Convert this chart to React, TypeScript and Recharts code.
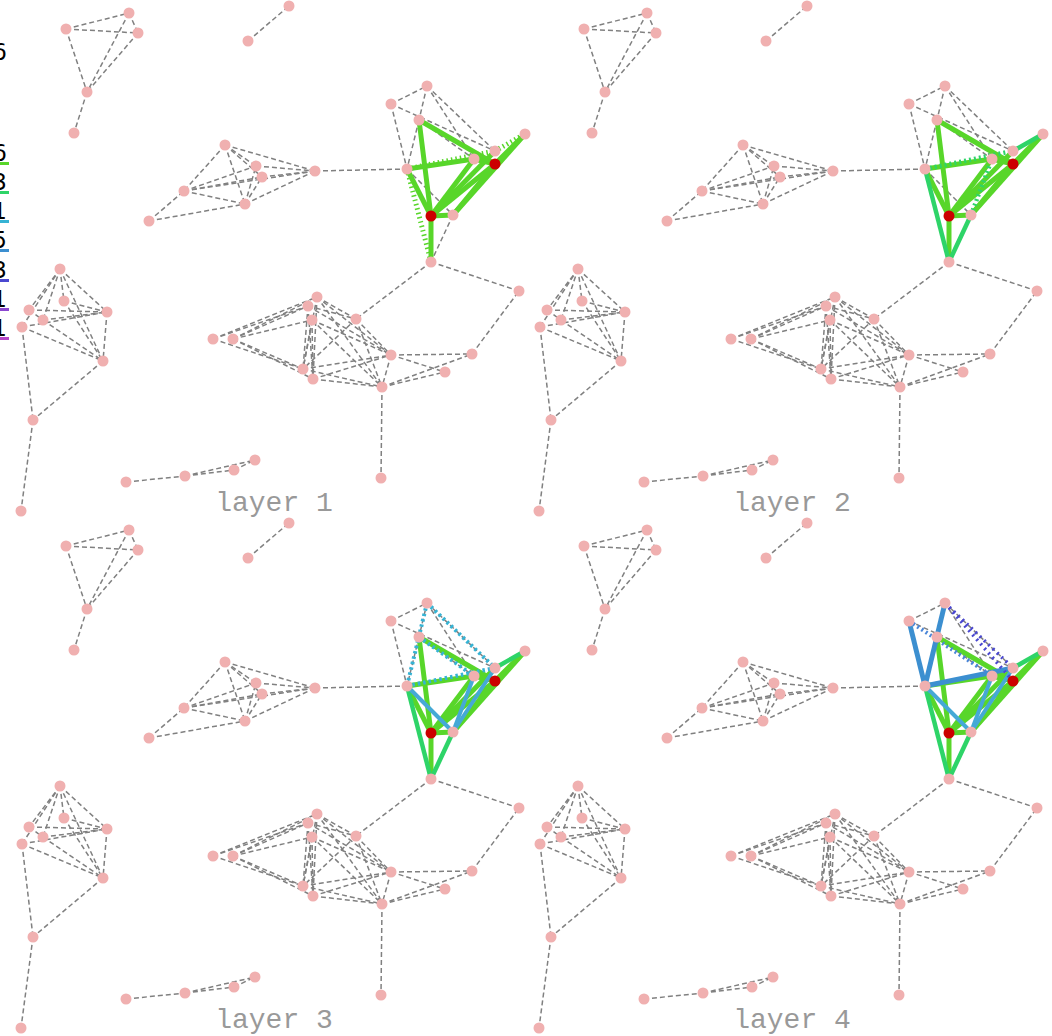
import React from "react"
import { ScatterChart, Scatter, XAxis, YAxis } from "recharts"

const W = 1052
const H = 1036

// node layout of one panel (same graph in every layer)
const nodes: [number, number][] = [
  [66, 29], [129, 13], [138, 33], [87, 92], [74, 133],
  [248, 41], [289, 6],
  [225, 145], [256, 166], [262, 177], [315, 171], [184, 191], [245, 204], [149, 221],
  [427, 86], [391, 104], [419, 120], [525, 134], [495, 151], [474, 159], [495, 164], [407, 169], [431, 216], [453, 215], [431, 262],
  [60, 269], [64, 301], [29, 310], [43, 320], [22, 327], [107, 312], [103, 361], [33, 420], [21, 511],
  [213, 339], [233, 339], [317, 297], [308, 306], [312, 320], [356, 319], [303, 369], [313, 379], [391, 355], [382, 387], [445, 372], [472, 354], [519, 291], [381, 478],
  [126, 482], [185, 476], [234, 470], [255, 460],
]

const redNodes = [20, 22]

const grayEdges: [number, number][] = [
  [0, 1], [0, 2], [0, 3], [1, 2], [1, 3], [2, 3], [3, 4],
  [5, 6],
  [7, 11], [7, 12], [7, 8], [7, 9], [7, 10], [11, 8], [11, 9], [11, 10], [11, 12], [13, 11], [13, 12], [12, 8], [12, 9], [12, 10], [8, 10], [9, 10], [10, 21],
  [15, 14], [15, 21], [15, 18], [14, 16], [14, 18], [14, 19], [16, 21], [16, 19], [21, 23], [23, 24], [24, 39], [24, 46], [21, 22], [19, 20],
  [25, 27], [25, 28], [25, 29], [25, 26], [25, 30], [25, 31], [26, 30], [27, 30], [28, 30], [29, 30], [26, 31], [28, 31], [29, 31], [27, 28], [30, 31], [29, 32], [31, 32], [32, 33],
  [34, 36], [34, 37], [34, 40], [35, 36], [35, 37], [35, 38], [35, 40], [35, 41], [36, 40], [37, 40], [38, 40], [36, 41], [37, 41], [38, 41], [36, 39], [37, 39], [36, 42], [37, 42], [38, 42], [36, 43], [38, 43], [39, 40], [39, 42], [39, 43], [40, 42], [41, 42], [40, 43], [41, 43], [42, 43], [42, 45], [42, 44], [43, 44], [43, 45], [45, 46], [43, 47],
  [48, 49], [49, 50], [49, 51], [50, 51],
]

const greenCore: [number, number][] = [
  [16, 20], [16, 22], [21, 19], [21, 22], [22, 20], [22, 19], [22, 18], [23, 17], [23, 20], [22, 23], [22, 24], [20, 17], [19, 20],
]
const greenDotted1: [number, number][] = [[21, 24], [21, 18], [18, 17]]
const greenSecond: [number, number][] = [[21, 24], [23, 24], [18, 17]]
const greenDotted2: [number, number][] = [[21, 18], [23, 19]]
const cyanDotted3: [number, number][] = [[14, 21], [14, 18], [16, 19], [21, 18]]
const lightBlue: [number, number][] = [[21, 23], [23, 18], [23, 19]]
const blue4: [number, number][] = [[15, 21], [14, 21], [21, 18]]
const blueDotted4: [number, number][] = [[15, 19]]
const indigoDotted4: [number, number][] = [[14, 18], [14, 20]]

const layerNames = ["layer 1", "layer 2", "layer 3", "layer 4"]
const legendLabels = ["6", "6", "3", "1", "5", "3", "1", "1"]
const legendColors = ["", "#58d62a", "#2ed468", "#36b3d4", "#3c8fd0", "#4a48d0", "#8b47d0", "#b445c8"]
const legendY = [60, 161, 190, 219, 248, 278, 307, 336]

const panelOffsets: [number, number][] = [[0, 0], [518, 0], [0, 517], [518, 517]]

type Style = { stroke: string; width: number; dash?: string }
const styles: Record<string, Style> = {
  gray: { stroke: "#808080", width: 1.5, dash: "5 3" },
  g1: { stroke: "#58d62a", width: 5 },
  g1d: { stroke: "#58d62a", width: 5, dash: "1.5 3" },
  g2: { stroke: "#2ed468", width: 4.5 },
  g2d: { stroke: "#2ed468", width: 4.5, dash: "2 3" },
  c3d: { stroke: "#36b3d4", width: 4, dash: "2.5 3" },
  b3: { stroke: "#45a9d6", width: 4 },
  b4: { stroke: "#3c8fd0", width: 5 },
  b4d: { stroke: "#4a86d8", width: 4, dash: "2 3" },
  i4d: { stroke: "#4a48d0", width: 3.5, dash: "2 4" },
}

// which coloured edge sets are drawn in each layer
const layerSets: Record<string, [number, number][]>[] = [
  { g1: greenCore, g1d: greenDotted1 },
  { g1: greenCore, g2: greenSecond, g2d: greenDotted2 },
  { g1: greenCore, g2: greenSecond, c3d: cyanDotted3, b3: lightBlue },
  { g1: greenCore, g2: greenSecond, b3: lightBlue, b4: blue4, b4d: blueDotted4, i4d: indigoDotted4 },
]

const styleOrder = ["gray", "g1", "g1d", "g2", "g2d", "c3d", "b3", "b4", "b4d", "i4d"]

function edgePoints(key: string) {
  const pts: { x: number; y: number }[] = []
  panelOffsets.forEach(([ox, oy], li) => {
    const list = key === "gray" ? grayEdges : layerSets[li][key] || []
    list.forEach(([a, b]) => {
      pts.push({ x: nodes[a][0] + ox, y: nodes[a][1] + oy })
      pts.push({ x: nodes[b][0] + ox, y: nodes[b][1] + oy })
    })
  })
  return pts
}

const nodeData = panelOffsets.flatMap(([ox, oy]) =>
  nodes.map(([x, y], i) => ({ x: x + ox, y: y + oy, red: redNodes.includes(i) }))
)
const labelData = panelOffsets.map(([ox, oy], i) => ({ x: 274 + ox, y: 511 + oy, label: layerNames[i] }))
const legendData = legendLabels.map((label, i) => ({ x: 7, y: legendY[i], label, color: legendColors[i] }))

const segments = (s: Style) => (p: any) => {
  const pts = p.points || []
  const out = []
  for (let i = 0; i + 1 < pts.length; i += 2) {
    out.push(
      <line key={i} x1={pts[i].x} y1={pts[i].y} x2={pts[i + 1].x} y2={pts[i + 1].y}
        stroke={s.stroke} strokeWidth={s.width} strokeDasharray={s.dash} fill="none" />
    )
  }
  return <g>{out}</g>
}

export default function App() {
  return (
    <div style={{ position: "absolute", left: 0, top: 0, width: W, height: H, background: "#fff" }}>
      <ScatterChart width={W} height={H} margin={{ top: 0, right: 0, bottom: 0, left: 0 }}>
        <XAxis type="number" dataKey="x" domain={[0, W]} hide allowDataOverflow />
        <YAxis type="number" dataKey="y" domain={[0, H]} reversed hide allowDataOverflow />
        {styleOrder.map((k) => (
          <Scatter key={k} data={edgePoints(k)} line={segments(styles[k])} lineType="joint"
            shape={() => <g />} isAnimationActive={false} />
        ))}
        <Scatter data={nodeData} isAnimationActive={false}
          shape={(p: any) => <circle cx={p.cx} cy={p.cy} r={5.5} fill={p.payload.red ? "#cc0000" : "#f0b0b0"} />} />
        <Scatter data={labelData} isAnimationActive={false}
          shape={(p: any) => (
            <text x={p.cx} y={p.cy} textAnchor="middle" fontFamily="Liberation Mono" fontSize={28} fill="#999999">
              {p.payload.label}
            </text>
          )} />
        <Scatter data={legendData} isAnimationActive={false}
          shape={(p: any) => (
            <g>
              <text x={p.cx} y={p.cy} textAnchor="end" fontFamily="DejaVu Sans" fontSize={23} fill="#000">
                {p.payload.label}
              </text>
              {p.payload.color ? <rect x={p.cx - 40} y={p.cy + 1} width={42} height={3} fill={p.payload.color} /> : null}
            </g>
          )} />
      </ScatterChart>
    </div>
  )
}
